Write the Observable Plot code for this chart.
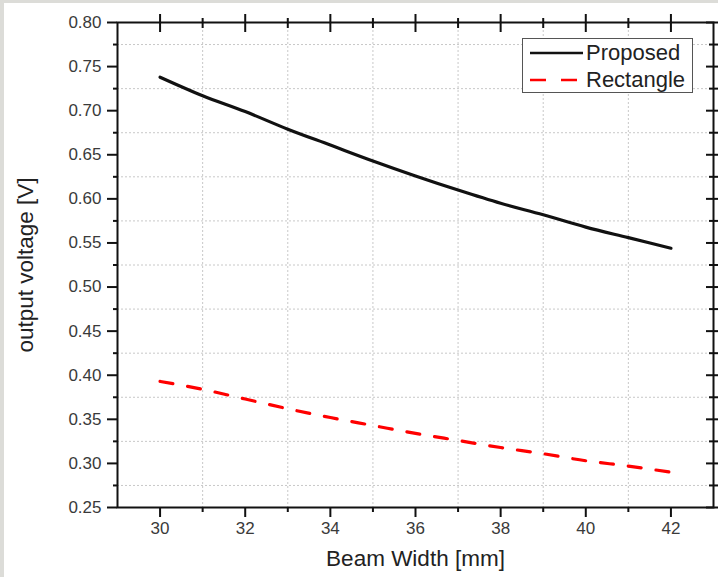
<!DOCTYPE html>
<html><head><meta charset="utf-8">
<script src="https://cdn.jsdelivr.net/npm/d3@7"></script>
<script src="https://cdn.jsdelivr.net/npm/@observablehq/plot@0.6"></script>
<style>
html,body{margin:0;padding:0;background:#fff;}
#wrap{position:relative;width:718px;height:577px;overflow:hidden;font-family:"Liberation Sans",Arial,sans-serif;}
#border{position:absolute;left:0;top:0;width:718px;height:577px;box-sizing:border-box;border-top:3px solid #dcdcd8;border-left:4px solid #dcdcd8;pointer-events:none;}
#legend{position:absolute;left:522px;top:38px;width:171px;height:55px;box-sizing:border-box;border:1px solid #555;background:#fff;}
#legend .row{position:absolute;left:0;width:100%;height:24px;}
#legend svg{position:absolute;left:6px;top:0;}
#legend span{position:absolute;left:63px;top:0;font-size:22px;line-height:24px;color:#222;}
</style></head><body>
<div id="wrap"><div id="chart"></div><div id="legend"></div><div id="border"></div></div>
<script>
const beamWidth = [30, 31, 32, 33, 34, 35, 36, 37, 38, 39, 40, 41, 42];
const proposed  = [0.738, 0.717, 0.699, 0.679, 0.661, 0.643, 0.626, 0.610, 0.595, 0.582, 0.568, 0.556, 0.544];
const rectangle = [0.393, 0.384, 0.373, 0.362, 0.352, 0.343, 0.334, 0.326, 0.318, 0.311, 0.303, 0.297, 0.290];
const seriesNames = ["Proposed", "Rectangle"];
const seriesColors = ["#111111", "#ff0000"];
const xMajorTicks = [30, 32, 34, 36, 38, 40, 42];
const xMinorTicks = [31, 33, 35, 37, 39, 41];
const yMajorTicks = [0.25, 0.30, 0.35, 0.40, 0.45, 0.50, 0.55, 0.60, 0.65, 0.70, 0.75, 0.80];
const yMinorTicks = [0.275, 0.325, 0.375, 0.425, 0.475, 0.525, 0.575, 0.625, 0.675, 0.725, 0.775];
const xDomain = [29, 43];
const yDomain = [0.25, 0.80];
const xLabel = "Beam Width [mm]";
const yLabel = "output voltage [V]";

const propRows = beamWidth.map((x, i) => ({x, v: proposed[i]}));
const rectRows = beamWidth.map((x, i) => ({x, v: rectangle[i]}));
const fmt = d3.format(".2f");
const gridStyle = {stroke: "#c8c8c8", strokeOpacity: 1, strokeWidth: 1, strokeDasharray: "2,2"};
const tickText = {fill: "#3a3a3a", fontSize: 17};

const chart = Plot.plot({
  width: 718, height: 577,
  marginLeft: 117, marginTop: 22, marginRight: 5, marginBottom: 70,
  x: {domain: xDomain},
  y: {domain: yDomain},
  style: {fontFamily: "'Liberation Sans', Arial, sans-serif", background: "transparent"},
  marks: [
    Plot.gridX(xMinorTicks, gridStyle),
    Plot.gridY(yMinorTicks, gridStyle),
    Plot.line(propRows, {x: "x", y: "v", stroke: seriesColors[0], strokeWidth: 3.2, curve: "monotone-x"}),
    Plot.line(rectRows, {x: "x", y: "v", stroke: seriesColors[1], strokeWidth: 3.2, strokeDasharray: "13,15", curve: "monotone-x"}),
    Plot.frame({stroke: "#111", strokeWidth: 2}),
    // left axis
    Plot.axisY(yMajorTicks, {anchor: "left", tickSize: 10, tickPadding: 6, tickFormat: fmt, stroke: "#111", strokeWidth: 2, ...tickText, label: null}),
    Plot.axisY(yMinorTicks, {anchor: "left", tickSize: 4, stroke: "#111", strokeWidth: 2, fill: "none", label: null}),
    // right axis (crossing ticks)
    Plot.axisY(yMajorTicks, {anchor: "right", tickSize: 16, dx: -8, stroke: "#111", strokeWidth: 2, fill: "none", label: null}),
    Plot.axisY(yMinorTicks, {anchor: "right", tickSize: 10, dx: -5, stroke: "#111", strokeWidth: 2, fill: "none", label: null}),
    // bottom axis
    Plot.axisX(xMajorTicks, {anchor: "bottom", tickSize: 10, tickPadding: 4, stroke: "#111", strokeWidth: 2, ...tickText, label: null}),
    Plot.axisX(xMinorTicks, {anchor: "bottom", tickSize: 5, stroke: "#111", strokeWidth: 2, fill: "none", label: null}),
    // top axis (crossing ticks)
    Plot.axisX(xMajorTicks, {anchor: "top", tickSize: 18, dy: 9, stroke: "#111", strokeWidth: 2, fill: "none", label: null}),
    Plot.axisX(xMinorTicks, {anchor: "top", tickSize: 10, dy: 5, stroke: "#111", strokeWidth: 2, fill: "none", label: null}),
    // axis titles
    Plot.text([xLabel], {text: d => d, frameAnchor: "bottom", dy: 58, lineAnchor: "bottom", fontSize: 22.5, fill: "#222"}),
    Plot.text([yLabel], {text: d => d, frameAnchor: "left", dx: -92, rotate: -90, lineAnchor: "middle", textAnchor: "middle", fontSize: 22.5, fill: "#222"})
  ]
});
document.getElementById("chart").appendChild(chart);

// legend
const legend = document.getElementById("legend");
seriesNames.forEach((name, i) => {
  const row = document.createElement("div");
  row.className = "row";
  row.style.top = (2 + i * 27) + "px";
  const dash = i === 1 ? 'stroke-dasharray="16,15"' : "";
  row.innerHTML = `<svg width="56" height="24"><line x1="1" x2="54" y1="12" y2="12" stroke="${seriesColors[i]}" stroke-width="2.6" ${dash}/></svg><span>${name}</span>`;
  legend.appendChild(row);
});
</script>
</body></html>
